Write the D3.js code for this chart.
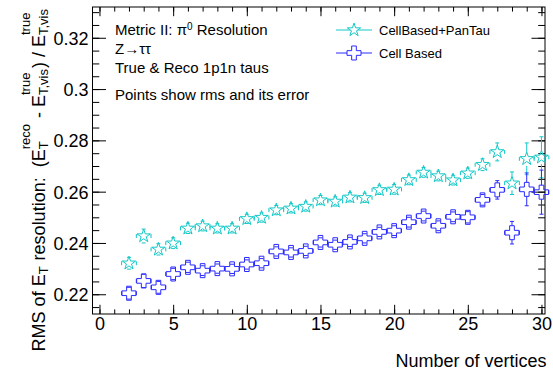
<!DOCTYPE html>
<html><head><meta charset="utf-8">
<script src="https://cdn.jsdelivr.net/npm/d3@7"></script>
<style>
body{margin:0;background:#fff}
svg{display:block}
text{font-family:"Liberation Sans",Arial,Helvetica,sans-serif;white-space:pre}
</style>
</head><body>
<svg id="c" width="553" height="374"></svg>
<script>
// ---------- data ----------
const nVertices = [2,3,4,5,6,7,8,9,10,11,12,13,14,15,16,17,18,19,20,21,22,23,24,25,26,27,28,29,30];
const panTauRms = [0.2321,0.2427,0.2375,0.2399,0.2457,0.2466,0.2457,0.2457,0.2494,0.2499,0.2528,0.2535,0.2542,0.2567,0.2562,0.2578,0.2576,0.2607,0.2609,0.2646,0.2675,0.2661,0.2645,0.2672,0.2705,0.2755,0.2633,0.2728,0.2734];
const panTauErr = [0.0023,0.0027,0.0022,0.0021,0.0020,0.0019,0.0018,0.0018,0.0018,0.0018,0.0018,0.0018,0.0018,0.0018,0.0018,0.0018,0.0018,0.0018,0.0019,0.0019,0.0019,0.0019,0.0019,0.0020,0.0023,0.0035,0.0044,0.0062,0.0080];
const cellRms = [0.2204,0.2252,0.2227,0.2279,0.2305,0.2292,0.2300,0.2299,0.2316,0.2321,0.2367,0.2363,0.2369,0.2402,0.2393,0.2404,0.2418,0.2443,0.2448,0.2481,0.2505,0.2467,0.2502,0.2500,0.2568,0.2607,0.2440,0.2609,0.2598];
const cellErr = [0.0023,0.0026,0.0023,0.0022,0.0020,0.0019,0.0018,0.0018,0.0018,0.0018,0.0018,0.0018,0.0018,0.0018,0.0018,0.0018,0.0018,0.0018,0.0019,0.0019,0.0019,0.0019,0.0019,0.0022,0.0021,0.0036,0.0044,0.0064,0.0086];
const binHalfWidth = 0.5;
const xTickValues = [0,5,10,15,20,25,30];
const xTickLabels = ["0","5","10","15","20","25","30"];
const yTickValues = [0.22,0.24,0.26,0.28,0.30,0.32];
const yTickLabels = ["0.22","0.24","0.26","0.28","0.3","0.32"];
const seriesNames = ["CellBased+PanTau","Cell Based"];
const xTitle = "Number of vertices";

// ---------- layout ----------
const W = 553, H = 374;
const L = 92.5, R = 545, T = 7, B = 314;
const cyan = "#12c8c8", blue = "#2a2aff";
const svg = d3.select("#c");

const x = d3.scaleLinear().domain([-0.475, 30.24]).range([L, R]);
const y = d3.scaleLinear().domain([0.2123, 0.3320]).range([B, T]);

const xMinor = d3.range(0, 31, 1);
const yMinor = d3.range(0.215, 0.3301, 0.005);

function styleAxis(g){
  g.select(".domain").remove();
  g.selectAll(".tick line").attr("stroke","#000").attr("stroke-width",1);
}
// bottom axis
svg.append("g").attr("transform",`translate(0,${B})`)
  .call(d3.axisBottom(x).tickValues(xMinor).tickSize(-4.6).tickFormat(""))
  .call(styleAxis);
const gxb = svg.append("g").attr("transform",`translate(0,${B})`)
  .call(d3.axisBottom(x).tickValues(xTickValues).tickSize(-9.2).tickPadding(3)
    .tickFormat((d,i)=>xTickLabels[i]))
  .call(styleAxis);
gxb.selectAll("text").attr("font-size",18).attr("fill","#000").attr("dy",null).attr("y",16);
// top axis
svg.append("g").attr("transform",`translate(0,${T})`)
  .call(d3.axisTop(x).tickValues(xMinor).tickSize(-4.6).tickFormat(""))
  .call(styleAxis);
svg.append("g").attr("transform",`translate(0,${T})`)
  .call(d3.axisTop(x).tickValues(xTickValues).tickSize(-9.2).tickFormat(""))
  .call(styleAxis);
// left axis
svg.append("g").attr("transform",`translate(${L},0)`)
  .call(d3.axisLeft(y).tickValues(yMinor).tickSize(-6.8).tickFormat(""))
  .call(styleAxis);
const gyl = svg.append("g").attr("transform",`translate(${L},0)`)
  .call(d3.axisLeft(y).tickValues(yTickValues).tickSize(-13.5).tickPadding(4)
    .tickFormat((d,i)=>yTickLabels[i]))
  .call(styleAxis);
gyl.selectAll("text").attr("font-size",18).attr("fill","#000").attr("dy",null).attr("y",6.5);
// right axis
svg.append("g").attr("transform",`translate(${R},0)`)
  .call(d3.axisRight(y).tickValues(yMinor).tickSize(-6.8).tickFormat(""))
  .call(styleAxis);
svg.append("g").attr("transform",`translate(${R},0)`)
  .call(d3.axisRight(y).tickValues(yTickValues).tickSize(-13.5).tickFormat(""))
  .call(styleAxis);
// frame
svg.append("rect").attr("x",L).attr("y",T).attr("width",R-L).attr("height",B-T)
  .attr("fill","none").attr("stroke","#000").attr("stroke-width",1);

// ---------- markers ----------
const MH = 7; // marker half size
const starPath = d3.symbol(d3.symbolStar, 49/0.8908130915292852)();
const crossPath = d3.symbol(d3.symbolCross, 109)();

function drawSeries(vals, errs, color, path){
  const g = svg.append("g").attr("stroke",color).attr("stroke-width",1).attr("fill","none");
  nVertices.forEach((n,i)=>{
    const cx = x(n), cy = y(vals[i]);
    const yt = y(vals[i]+errs[i]), yb = y(vals[i]-errs[i]);
    const xl = x(n-binHalfWidth), xr = x(n+binHalfWidth);
    const segs = [];
    if (cy-yt > MH) { segs.push([cx,cy-MH,cx,yt]); segs.push([cx,cy+MH,cx,yb]); }
    if (cx-xl > MH) { segs.push([cx-MH,cy,xl,cy]); segs.push([cx+MH,cy,xr,cy]); }
    // caps
    segs.push([cx-2,yt,cx+2,yt]); segs.push([cx-2,yb,cx+2,yb]);
    segs.push([xl,cy-2,xl,cy+2]); segs.push([xr,cy-2,xr,cy+2]);
    segs.forEach(s=>g.append("line").attr("x1",s[0]).attr("y1",s[1]).attr("x2",s[2]).attr("y2",s[3]));
    g.append("path").attr("d",path).attr("transform",`translate(${cx},${cy})`);
  });
}
drawSeries(panTauRms, panTauErr, cyan, starPath);
drawSeries(cellRms, cellErr, blue, crossPath);

// ---------- legend ----------
const legend = [[seriesNames[0],cyan,starPath,30],[seriesNames[1],blue,crossPath,53]];
legend.forEach(([name,col,p,ly])=>{
  svg.append("line").attr("x1",336).attr("x2",372).attr("y1",ly).attr("y2",ly).attr("stroke",col);
  svg.append("path").attr("d",p).attr("transform",`translate(354,${ly})`).attr("fill","#fff").attr("stroke",col);
  svg.append("text").attr("x",379).attr("y",ly+4.8).attr("font-size",13).attr("fill","#000").text(name);
});

// ---------- info text ----------
const t1 = svg.append("text").attr("x",115).attr("y",34.5).attr("font-size",15);
t1.append("tspan").text("Metric II: π");
t1.append("tspan").attr("font-size",10).attr("dy",-5).text("0");
t1.append("tspan").attr("dy",5).text(" Resolution");
svg.append("text").attr("x",115).attr("y",54).attr("font-size",15).text("Z→ττ");
svg.append("text").attr("x",115).attr("y",72.5).attr("font-size",15).text("True & Reco 1p1n taus");
svg.append("text").attr("x",115).attr("y",100).attr("font-size",15).text("Points show rms and its error");

// ---------- axis titles ----------
svg.append("text").attr("x",546.5).attr("y",366.5).attr("text-anchor","end").attr("font-size",18).text(xTitle);

const yTitleParts = [
  {main:"RMS of E"},{sub:"T"},{main:" resolution:  (E"},{sup:"reco",sub:"T"},
  {main:" - E"},{sup:"true",sub:"T,vis"},{main:") / E"},{sup:"true",sub:"T,vis"}
];
const gy = svg.append("g");
let cur = 0;
yTitleParts.forEach(p=>{
  if (p.main) {
    const t = gy.append("text").attr("x",cur).attr("y",0).attr("font-size",18).text(p.main);
    cur += t.node().getComputedTextLength();
  } else {
    let w = 0;
    if (p.sup) { const t = gy.append("text").attr("x",cur).attr("y",-15).attr("font-size",13).text(p.sup); w = Math.max(w,t.node().getComputedTextLength()); }
    if (p.sub) { const t = gy.append("text").attr("x",cur).attr("y",3).attr("font-size",13).text(p.sub); w = Math.max(w,t.node().getComputedTextLength()); }
    cur += w + 1;
  }
});
gy.attr("transform",`translate(45,${8+cur}) rotate(-90)`);
</script>
</body></html>
